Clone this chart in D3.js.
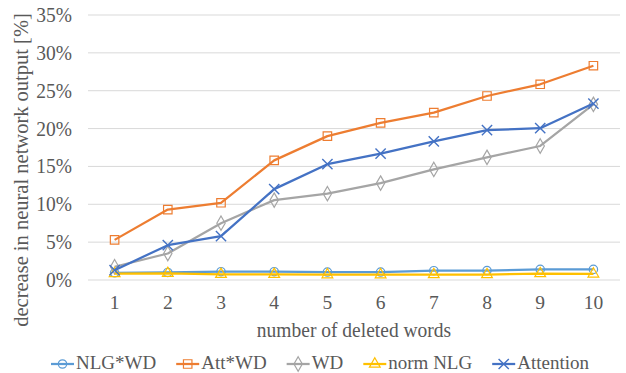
<!DOCTYPE html>
<html>
<head>
<meta charset="utf-8">
<script src="https://cdn.jsdelivr.net/npm/d3@7"></script>
<style>
  body { margin: 0; background: #fff; }
</style>
</head>
<body>
<script>
// data
var words = ["1", "2", "3", "4", "5", "6", "7", "8", "9", "10"];
var yTicks = [0, 5, 10, 15, 20, 25, 30, 35];
var nlgWd = [0.95, 1.0, 1.1, 1.1, 1.05, 1.05, 1.23, 1.25, 1.4, 1.4];
var attWd = [5.3, 9.3, 10.2, 15.8, 19.0, 20.75, 22.1, 24.3, 25.85, 28.3];
var wd = [1.75, 3.5, 7.5, 10.55, 11.4, 12.8, 14.6, 16.2, 17.7, 23.2];
var normNlg = [0.85, 0.88, 0.75, 0.75, 0.7, 0.7, 0.72, 0.72, 0.85, 0.8];
var attention = [1.3, 4.6, 5.8, 12.0, 15.3, 16.7, 18.3, 19.8, 20.05, 23.3];

var series = [
  {name: "NLG*WD", values: nlgWd, color: "#5B9BD5", marker: "circle"},
  {name: "Att*WD", values: attWd, color: "#ED7D31", marker: "square"},
  {name: "WD", values: wd, color: "#A5A5A5", marker: "diamond"},
  {name: "norm NLG", values: normNlg, color: "#FFC000", marker: "triangle"},
  {name: "Attention", values: attention, color: "#4472C4", marker: "cross"}
];

var FONT = "Liberation Serif";
var width = 626, height = 373;
var svg = d3.select("body").append("svg")
    .attr("width", width)
    .attr("height", height)
    .attr("font-family", FONT);

var x = d3.scaleBand().domain(words).range([88, 620]);
var y = d3.scaleLinear().domain([0, 35]).range([280, 15]);

function label(sel, size) {
  return sel.attr("font-family", FONT)
    .attr("font-size", size)
    .attr("fill", "#595959");
}

// gridlines
svg.append("g").selectAll("line")
  .data(yTicks)
  .enter().append("line")
    .attr("x1", 88).attr("x2", 620)
    .attr("y1", function(d) { return y(d); })
    .attr("y2", function(d) { return y(d); })
    .attr("stroke", "#D9D9D9")
    .attr("stroke-width", 1);

// y tick labels
svg.append("g").selectAll("text")
  .data(yTicks)
  .enter().append("text")
    .attr("transform", function(d) { return "translate(72," + (y(d) + 7) + ") scale(1,1.1)"; })
    .attr("text-anchor", "end")
    .call(label, 19.5)
    .text(function(d) { return d + "%"; });

// x tick labels
svg.append("g").selectAll("text")
  .data(words)
  .enter().append("text")
    .attr("x", function(d) { return x(d) + x.bandwidth() / 2; })
    .attr("y", 309)
    .attr("text-anchor", "middle")
    .call(label, 19.5)
    .text(function(d) { return d; });

// axis titles
svg.append("text")
    .attr("transform", "translate(354,337) scale(1,1.1)")
    .attr("text-anchor", "middle")
    .call(label, 19.5)
    .text("number of deleted words");

svg.append("text")
    .attr("transform", "translate(28,170) rotate(-90)")
    .attr("text-anchor", "middle")
    .call(label, 20.5)
    .text("decrease in neural network output [%]");

var line = d3.line()
    .x(function(d, i) { return x(words[i]) + x.bandwidth() / 2; })
    .y(function(d) { return y(d); });

var symbols = {
  circle: d3.symbol().type(d3.symbolCircle).size(55),
  square: d3.symbol().type(d3.symbolSquare).size(72),
  diamond: d3.symbol().type(d3.symbolDiamond).size(60),
  triangle: d3.symbol().type(d3.symbolTriangle).size(50),
  cross: d3.symbol().type(d3.symbolX).size(70)
};

function drawMarker(g, s) {
  g.append("path")
    .attr("d", symbols[s.marker]())
    .attr("fill", "none")
    .attr("stroke", s.color)
    .attr("stroke-width", s.marker == "cross" ? 1.4 : 1.2);
}

series.forEach(function(s) {
  var g = svg.append("g");
  g.append("path")
    .datum(s.values)
    .attr("d", line)
    .attr("fill", "none")
    .attr("stroke", s.color)
    .attr("stroke-width", 2.25)
    .attr("stroke-linejoin", "round");
  g.selectAll("g.pt")
    .data(s.values)
    .enter().append("g")
      .attr("class", "pt")
      .attr("transform", function(d, i) {
        return "translate(" + (x(words[i]) + x.bandwidth() / 2) + "," + y(d) + ")";
      })
      .each(function() { drawMarker(d3.select(this), s); });
});

// legend: laid out left to right from measured text widths
var lx = 51;
series.forEach(function(s) {
  var lg = svg.append("g").attr("transform", "translate(" + lx + ",364)");
  lg.append("line")
    .attr("x1", 0).attr("x2", 23)
    .attr("stroke", s.color)
    .attr("stroke-width", 2.25);
  var m = lg.append("g").attr("transform", "translate(11.5,0)");
  drawMarker(m, s);
  var t = lg.append("text")
    .attr("x", 25).attr("y", 4.5)
    .call(label, 19)
    .text(s.name);
  lx += 25 + t.node().getComputedTextLength() + 20;
});
</script>
</body>
</html>
